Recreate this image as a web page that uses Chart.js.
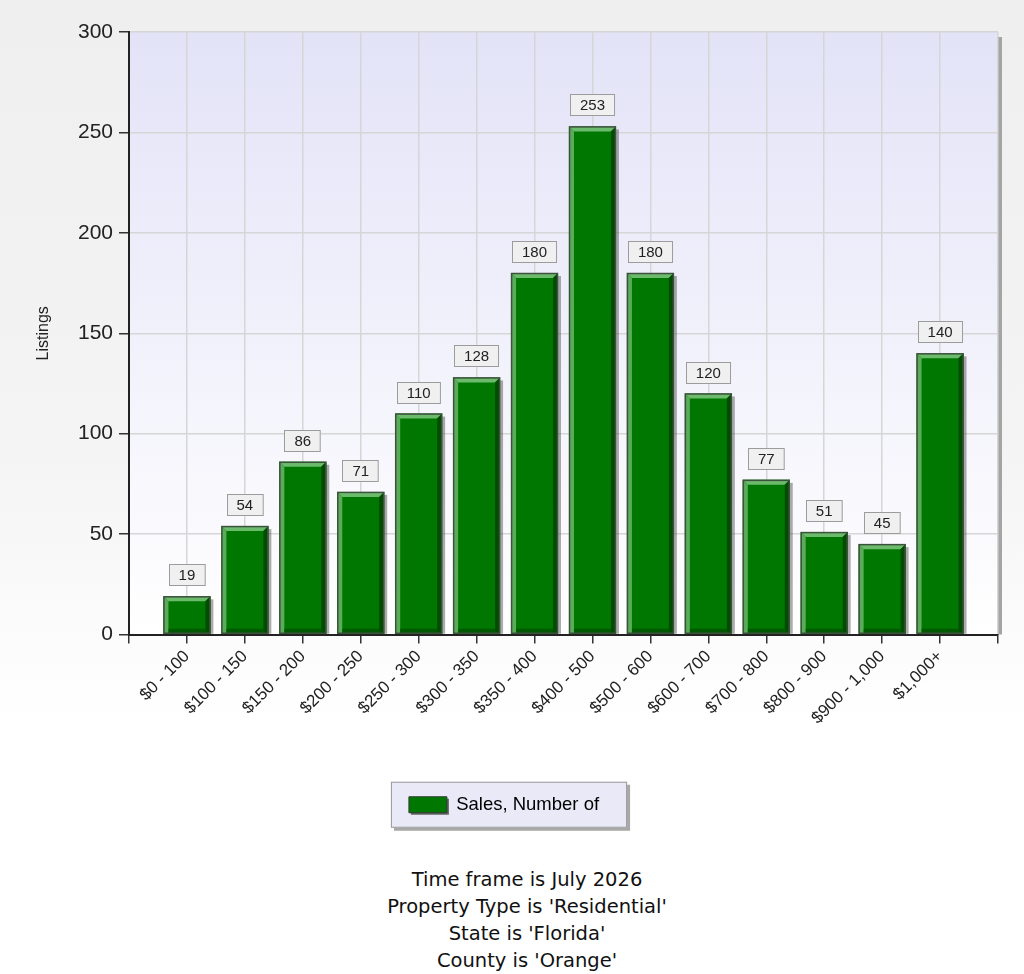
<!DOCTYPE html>
<html>
<head>
<meta charset="utf-8">
<script src="https://cdn.jsdelivr.net/npm/chart.js@4.4.1/dist/chart.umd.min.js"></script>
<style>
html, body { margin: 0; padding: 0; }
body {
  width: 1024px; height: 974px; overflow: hidden;
  background: linear-gradient(#efefef 0px, #f4f4f4 450px, #ffffff 720px);
}
#wrap { position: relative; width: 1024px; height: 850px; }
#caption {
  margin-top: 16px; padding-left: 30px; text-align: center;
  font-family: "DejaVu Sans", Verdana, sans-serif; font-size: 19.5px;
  line-height: 27px; color: #111;
}
</style>
</head>
<body>
<div id="wrap"><canvas id="myChart"></canvas></div>
<div id="caption">
  <div>Time frame is July 2026</div>
  <div>Property Type is 'Residential'</div>
  <div>State is 'Florida'</div>
  <div>County is 'Orange'</div>
</div>
<script>
// price ranges (thousands) and number of sales
const priceRanges = ['$0 - 100', '$100 - 150', '$150 - 200', '$200 - 250', '$250 - 300',
  '$300 - 350', '$350 - 400', '$400 - 500', '$500 - 600', '$600 - 700',
  '$700 - 800', '$800 - 900', '$900 - 1,000', '$1,000+'];
const salesCount = [19, 54, 86, 71, 110, 128, 180, 253, 180, 120, 77, 51, 45, 140];
const yMin = 0, yMax = 300, yStep = 50;
const seriesName = 'Sales, Number of';

// one empty slot each side, like the original chart
const labels = [''].concat(priceRanges, ['']);
const values = [null].concat(salesCount, [null]);

Chart.defaults.font.family = '"Liberation Sans", Arial, sans-serif';
Chart.defaults.color = '#222';

function poly(ctx, color, pts) {
  ctx.fillStyle = color;
  ctx.beginPath();
  ctx.moveTo(pts[0][0], pts[0][1]);
  for (let i = 1; i < pts.length; i++) ctx.lineTo(pts[i][0], pts[i][1]);
  ctx.closePath();
  ctx.fill();
}

const backdrop = {
  id: 'backdrop',
  beforeDraw(chart) {
    const ctx = chart.ctx;
    const a = chart.chartArea;
    ctx.save();
    // plot shadow on the right
    ctx.fillStyle = '#a4a4a4';
    ctx.fillRect(a.right, a.top + 5, 4, a.bottom - a.top - 5);
    const g = ctx.createLinearGradient(0, a.top, 0, a.bottom);
    g.addColorStop(0, '#e3e3f8');
    g.addColorStop(1, '#ffffff');
    ctx.fillStyle = g;
    ctx.fillRect(a.left, a.top, a.right - a.left, a.bottom - a.top);

    // legend frame
    const lg = chart.legend;
    const lab = lg.options.labels;
    ctx.font = lab.font.size + 'px ' + Chart.defaults.font.family;
    const itemW = lab.boxWidth + lab.font.size / 2 + ctx.measureText(seriesName).width;
    const sx = (lg.left + lg.right - itemW) / 2;
    const cy = lg.top + lab.padding + Math.max(lab.boxHeight, lab.font.size) / 2;
    const bx = sx - 18, bw = itemW + 46, by = cy - 23, bh = 46;
    ctx.fillStyle = '#a8a8a8';
    ctx.fillRect(bx + 3, by + 3, bw, bh);
    ctx.fillStyle = '#e9e9f7';
    ctx.fillRect(bx, by, bw, bh);
    ctx.strokeStyle = '#9a9a9a';
    ctx.lineWidth = 1;
    ctx.strokeRect(bx + 0.5, by + 0.5, bw - 1, bh - 1);
    ctx.fillStyle = '#666';
    ctx.fillRect(sx + 2, cy - lab.boxHeight / 2 + 2, lab.boxWidth, lab.boxHeight);
    ctx.restore();
  },
  beforeDatasetsDraw(chart) {
    const ctx = chart.ctx;
    const meta = chart.getDatasetMeta(0);
    ctx.save();
    ctx.fillStyle = 'rgba(70,70,70,0.45)';
    meta.data.forEach((el, i) => {
      if (values[i] == null) return;
      const p = el.getProps(['x', 'y', 'base', 'width'], true);
      ctx.fillRect(p.x - p.width / 2 + 3, p.y + 3, p.width, p.base - p.y - 3);
    });
    ctx.restore();
  },
  afterDatasetsDraw(chart) {
    const ctx = chart.ctx;
    const meta = chart.getDatasetMeta(0);
    ctx.save();
    meta.data.forEach((el, i) => {
      if (values[i] == null) return;
      const p = el.getProps(['x', 'y', 'base', 'width'], true);
      const b = 5;
      const l = p.x - p.width / 2, r = p.x + p.width / 2, t = p.y, bt = p.base;
      poly(ctx, '#6cba6c', [[l, t], [r, t], [r - b, t + b], [l + b, t + b]]);
      poly(ctx, '#5aab5a', [[l, t], [l + b, t + b], [l + b, bt], [l, bt]]);
      poly(ctx, '#004c00', [[r, t], [r, bt], [r - b, bt], [r - b, t + b]]);
      poly(ctx, '#005800', [[l + b, bt - b], [r - b, bt - b], [r - b, bt], [l + b, bt]]);
      ctx.strokeStyle = '#3d523d';
      ctx.lineWidth = 1.5;
      ctx.strokeRect(l + 0.5, t + 0.5, p.width - 1, bt - t - 1);

      // value box
      ctx.font = '15px ' + Chart.defaults.font.family;
      const txt = String(values[i]);
      const w = ctx.measureText(txt).width + 20;
      const h = 22;
      const bx = Math.round(p.x - w / 2), by = Math.round(t - 10 - h);
      ctx.fillStyle = '#f0f0f0';
      ctx.fillRect(bx, by, w, h);
      ctx.strokeStyle = '#9c9c9c';
      ctx.lineWidth = 1;
      ctx.strokeRect(bx + 0.5, by + 0.5, w - 1, h - 1);
      ctx.fillStyle = '#222';
      ctx.textAlign = 'center';
      ctx.textBaseline = 'middle';
      ctx.fillText(txt, p.x, by + h / 2 + 1);
    });
    ctx.restore();
  }
};

const ctx = document.querySelector('#myChart').getContext('2d');
const myChart = new Chart(ctx, {
  type: 'bar',
  data: {
    labels: labels,
    datasets: [{
      label: seriesName,
      data: values,
      backgroundColor: '#007700',
      borderWidth: 0,
      categoryPercentage: 1,
      barPercentage: 0.81
    }]
  },
  options: {
    responsive: true,
    maintainAspectRatio: false,
    animation: false,
    layout: { padding: { top: 32, right: 26, left: 10, bottom: 26 } },
    scales: {
      x: {
        offset: false,
        afterFit(scale) { scale.height = 125; },
        grid: {
          offset: false,
          color: '#d6d6d6',
          lineWidth: 1.5,
          tickColor: '#333',
          tickLength: 9
        },
        border: { color: '#222', width: 2 },
        ticks: {
          autoSkip: false,
          minRotation: 45,
          maxRotation: 45,
          padding: 3,
          font: { size: 17 },
          color: '#222'
        }
      },
      y: {
        min: yMin,
        max: yMax,
        afterFit(scale) { scale.width = 119; },
        grid: {
          color: '#d6d6d6',
          lineWidth: 1.5,
          tickColor: '#333',
          tickLength: 10
        },
        border: { color: '#222', width: 2 },
        ticks: { stepSize: yStep, padding: 6, font: { size: 21 }, color: '#222' },
        title: {
          display: true,
          text: 'Listings',
          font: { size: 16 },
          color: '#222',
          padding: { top: 24, bottom: 0 }
        }
      }
    },
    plugins: {
      legend: {
        position: 'bottom',
        labels: {
          boxWidth: 38,
          boxHeight: 16,
          padding: 36,
          font: { size: 18.5 },
          color: '#222',
          generateLabels: (chart) => chart.data.datasets.map((ds, i) => ({
            text: ds.label,
            fillStyle: ds.backgroundColor,
            strokeStyle: '#2f3f2f',
            lineWidth: 1,
            hidden: false,
            datasetIndex: i
          }))
        }
      },
      tooltip: { enabled: false }
    }
  },
  plugins: [backdrop]
});
</script>
</body>
</html>
